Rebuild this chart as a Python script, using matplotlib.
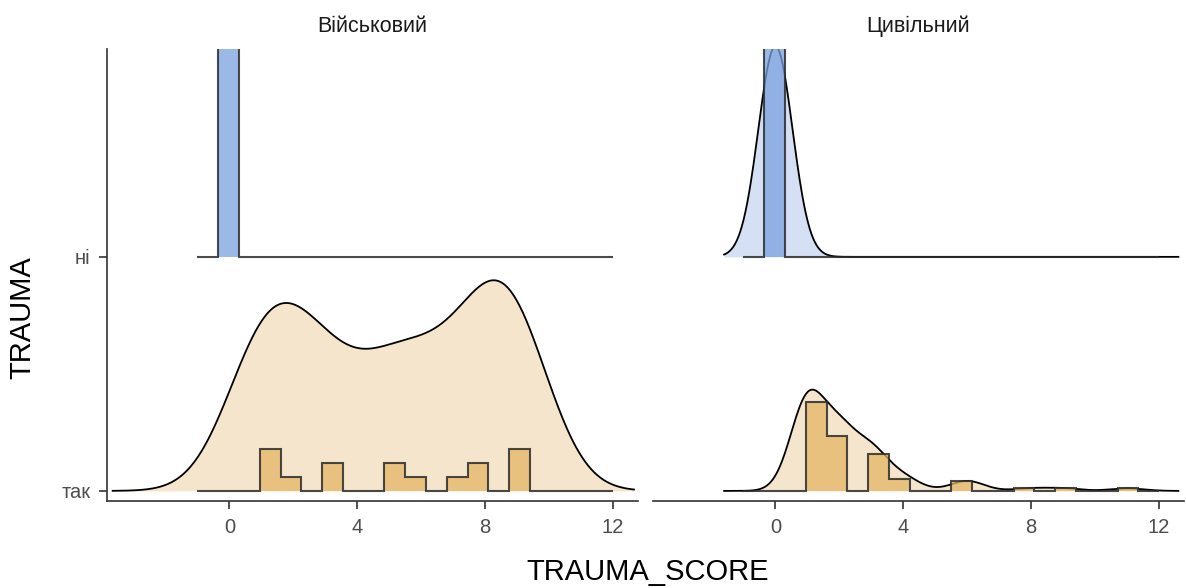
import numpy as np
import matplotlib.pyplot as plt

plt.rcParams['font.family'] = ['Liberation Sans', 'DejaVu Sans']

# facets and ridge groups (bottom ridge first)
panels = ['Військовий', 'Цивільний']
groups = ['так', 'ні']

# TRAUMA_SCORE values and how many people have each score
scores = np.arange(0, 12)
mil_tak = [0, 12, 4, 8, 0, 8, 4, 4, 8, 12, 0, 0]
mil_ni = [1, 0, 0, 0, 0, 0, 0, 0, 0, 0, 0, 0]
civ_tak = [0, 36, 22, 15, 5, 0, 4, 0, 1, 1, 0, 1]
civ_ni = [15, 0, 0, 0, 0, 0, 0, 0, 0, 0, 0, 0]

counts = {
    'Військовий': {'так': mil_tak, 'ні': mil_ni},
    'Цивільний': {'так': civ_tak, 'ні': civ_ni},
}

bin_edges = np.linspace(-1, 12, 21)
ridge_scale = 0.9

fill_col = {'так': '#F5E5CC', 'ні': '#D5E0F4'}
bar_col = {'так': '#E5B664', 'ні': '#7AA2E0'}


def bw_nrd0(x):
    # same rule as R's bw.nrd0
    hi = np.std(x, ddof=1)
    q75, q25 = np.percentile(x, [75, 25])
    lo = min(hi, (q75 - q25) / 1.34)
    if lo == 0:
        lo = hi or abs(x[0]) or 1.0
    return 0.9 * lo * len(x) ** -0.2


def kde(x, grid, bw):
    z = (grid[:, None] - x[None, :]) / bw
    return np.exp(-0.5 * z ** 2).sum(axis=1) / (len(x) * bw * np.sqrt(2 * np.pi))


fig = plt.figure(figsize=(11.86, 5.88), dpi=100)
ax_l = fig.add_axes([107 / 1186, 0.148, 531 / 1186, 0.769])
ax_r = fig.add_axes([653 / 1186, 0.148, 531 / 1186, 0.769])

for ax, panel in zip([ax_l, ax_r], panels):
    raw = {g: np.repeat(scores, counts[panel][g]).astype(float) for g in groups}
    allx = np.concatenate([raw[g] for g in groups])
    bw = bw_nrd0(allx)
    grid = np.linspace(allx.min() - 3 * bw, allx.max() + 3 * bw, 512)

    dens = {g: kde(raw[g], grid, bw) for g in groups if len(raw[g]) > 1}
    dmax = max(d.max() for d in dens.values())

    hists = {}
    for g in groups:
        h, _ = np.histogram(raw[g], bins=bin_edges)
        hists[g] = h / (len(raw[g]) * np.diff(bin_edges))
    hmax = max(h.max() for h in hists.values())

    # density ridges, top ridge first
    for i, g in reversed(list(enumerate(groups))):
        if g not in dens:
            continue
        y = i + dens[g] / dmax * ridge_scale
        ax.fill_between(grid, i, y, color=fill_col[g], lw=0, zorder=2)
        ax.plot(grid, y, color='black', lw=1.3, zorder=3)

    # histogram ridges on top
    for i, g in reversed(list(enumerate(groups))):
        h = hists[g] / hmax * ridge_scale
        ax.stairs(i + h, bin_edges, baseline=i, fill=True, color=bar_col[g],
                  alpha=0.75, lw=0, zorder=4)
        ax.stairs(i + h, bin_edges, baseline=i, color='#2B2B2B', alpha=0.85,
                  lw=1.5, zorder=5)

    ax.set_xlim(-3.83, 12.78)
    ax.set_ylim(-0.043, 1.889)
    ax.set_xticks([0, 4, 8, 12])
    ax.spines['top'].set_visible(False)
    ax.spines['right'].set_visible(False)
    for s in ['bottom', 'left']:
        ax.spines[s].set_color('#333333')
        ax.spines[s].set_linewidth(1.2)
    ax.tick_params(direction='out', length=6, width=1.2, color='#333333',
                   labelcolor='#4D4D4D', labelsize=14.5, pad=6)
    ax.set_title(panel, fontsize=15.5, color='#1A1A1A', pad=12)

ax_l.set_yticks([0, 1])
ax_l.set_yticklabels(groups)
ax_r.set_yticks([])
ax_r.spines['left'].set_visible(False)

fig.text(0.546, 0.027, 'TRAUMA_SCORE', ha='center', va='center', fontsize=21, color='black')
fig.text(0.019, 0.46, 'TRAUMA', ha='center', va='center', rotation=90, fontsize=21, color='black')

fig.savefig('out.png', dpi=100)
